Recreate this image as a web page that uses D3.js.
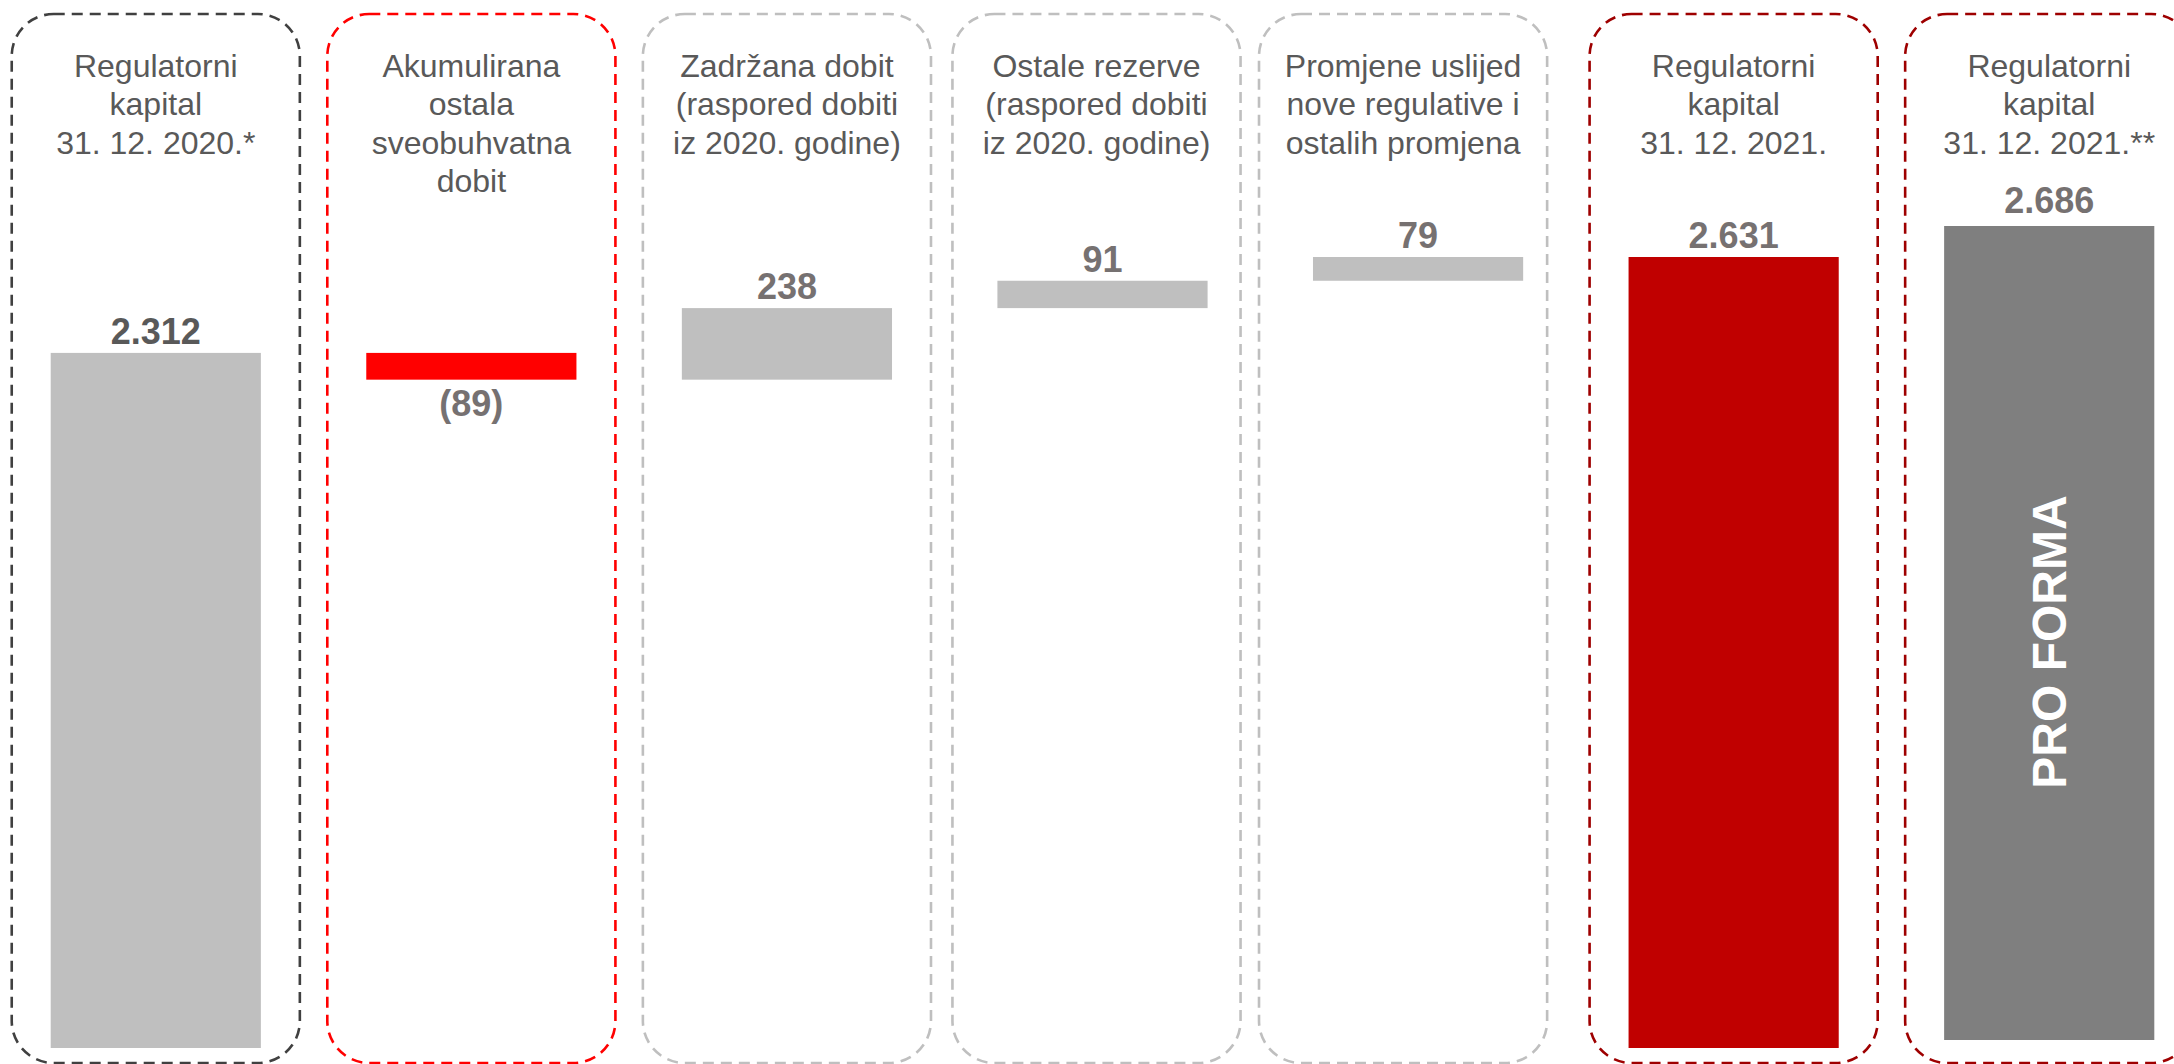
<!doctype html>
<html lang="hr">
  <head>
    <meta charset="utf-8">
    <script src="https://cdnjs.cloudflare.com/ajax/libs/d3/7.8.5/d3.min.js"></script>
    <style>
      body { margin: 0; background: #fff; }
      svg { display: block; font-family: "Liberation Sans", Arial, sans-serif; }
      .title { fill: #595959; font-size: 32px; }
      .val { font-size: 36px; font-weight: bold; }
    </style>
    <title>Regulatorni kapital</title>
  </head>
  <body>
    <div id="chart"></div>
    <script>
      // categories (one entry per column)
      var categories = ["rk2020", "akum", "zadrzana", "ostale", "promjene", "rk2021", "rk2021pf"];

      // column headings, line by line
      var titleLines = [
        ["Regulatorni", "kapital", "31. 12. 2020.*"],
        ["Akumulirana", "ostala", "sveobuhvatna", "dobit"],
        ["Zadržana dobit", "(raspored dobiti", "iz 2020. godine)"],
        ["Ostale rezerve", "(raspored dobiti", "iz 2020. godine)"],
        ["Promjene uslijed", "nove regulative i", "ostalih promjena"],
        ["Regulatorni", "kapital", "31. 12. 2021."],
        ["Regulatorni", "kapital", "31. 12. 2021.**"]
      ];

      // values (mil. kn) - totals and changes
      var values = [2312, -89, 238, 91, 79, 2631, 2686];
      var barTypes = ["total", "delta", "delta", "delta", "delta", "total", "proforma"];
      var valueLabels = ["2.312", "(89)", "238", "91", "79", "2.631", "2.686"];

      // styles per column
      var barFill = {rk2020: "#BFBFBF", akum: "#FF0000", zadrzana: "#BFBFBF", ostale: "#BFBFBF",
                     promjene: "#BFBFBF", rk2021: "#C00000", rk2021pf: "#7F7F7F"};
      var boxStroke = {rk2020: "#404040", akum: "#FF0000", zadrzana: "#BFBFBF", ostale: "#BFBFBF",
                       promjene: "#BFBFBF", rk2021: "#9E0000", rk2021pf: "#9E0000"};
      var labelFill = {rk2020: "#595959", akum: "#767171", zadrzana: "#767171", ostale: "#767171",
                       promjene: "#767171", rk2021: "#767171", rk2021pf: "#767171"};
      // frames 4 and 5 sit a little left of their bars in the original
      var boxShift = {ostale: -6, promjene: -15};

      var width = 2174, height = 1064;

      var svg = d3.select("#chart").append("svg")
          .attr("width", width)
          .attr("height", height);

      var x = d3.scaleBand()
          .domain(categories)
          .range([-2, 2207]);

      // main waterfall scale and the separate pro forma column scale
      var y = d3.scaleLinear().domain([0, 2631]).range([1048, 257]);
      var yPro = d3.scaleLinear().domain([0, 2686]).range([1040, 226]);

      // build waterfall segments
      var running = 0;
      var bars = categories.map(function(c, i) {
        var v = values[i], s, e, sc = y;
        if (barTypes[i] === "delta") {
          s = running; e = running + v; running = e;
        } else {
          s = 0; e = v; running = v;
          if (barTypes[i] === "proforma") sc = yPro;
        }
        return {cat: c, v: v, start: s, end: e, scale: sc, label: valueLabels[i], lines: titleLines[i]};
      });

      var bw = x.bandwidth();
      var boxW = bw * 0.913, barW = bw * 0.666;

      function boxCenter(c) { return x(c) + bw / 2 + (boxShift[c] || 0); }

      // dashed rounded frames
      svg.selectAll("rect.box")
        .data(bars)
        .enter()
        .append("rect")
          .attr("class", "box")
          .attr("x", function(d) { return boxCenter(d.cat) - boxW / 2; })
          .attr("y", 14)
          .attr("width", boxW)
          .attr("height", 1049)
          .attr("rx", 42)
          .attr("fill", "none")
          .attr("stroke", function(d) { return boxStroke[d.cat]; })
          .attr("stroke-width", 2.6)
          .attr("stroke-dasharray", "11,7");

      // headings
      var titles = svg.selectAll("text.title")
        .data(bars)
        .enter()
        .append("text")
          .attr("class", "title")
          .attr("text-anchor", "middle")
          .attr("x", function(d) { return boxCenter(d.cat); })
          .attr("y", 77);

      titles.selectAll("tspan")
        .data(function(d) { return d.lines.map(function(l) { return {t: l, x: boxCenter(d.cat)}; }); })
        .enter()
        .append("tspan")
          .attr("x", function(l) { return l.x; })
          .attr("dy", function(l, i) { return i === 0 ? 0 : 38.4; })
          .text(function(l) { return l.t; });

      // bars
      svg.selectAll("rect.bar")
        .data(bars)
        .enter()
        .append("rect")
          .attr("class", "bar")
          .attr("x", function(d) { return x(d.cat) + (bw - barW) / 2; })
          .attr("y", function(d) { return d.scale(Math.max(d.start, d.end)); })
          .attr("width", barW)
          .attr("height", function(d) { return Math.abs(d.scale(d.start) - d.scale(d.end)); })
          .attr("fill", function(d) { return barFill[d.cat]; });

      // value labels: above the bar, or below it for a decrease
      svg.selectAll("text.val")
        .data(bars)
        .enter()
        .append("text")
          .attr("class", "val")
          .attr("text-anchor", "middle")
          .attr("fill", function(d) { return labelFill[d.cat]; })
          .attr("x", function(d) { return x(d.cat) + bw / 2; })
          .attr("y", function(d) {
            if (d.v < 0) return d.scale(d.end) + 36;
            return d.scale(d.end) - (d.cat === "rk2021pf" ? 13 : 9);
          })
          .text(function(d) { return d.label; });

      // PRO FORMA tag inside the last bar
      var pf = bars[bars.length - 1];
      var pfx = x(pf.cat) + bw / 2, pfy = (pf.scale(0) + pf.scale(pf.end)) / 2 + 9;
      svg.append("text")
          .attr("transform", "translate(" + pfx + "," + pfy + ") rotate(-90)")
          .attr("text-anchor", "middle")
          .attr("dominant-baseline", "central")
          .attr("fill", "#FFFFFF")
          .attr("font-size", "48px")
          .attr("font-weight", "bold")
          .text("PRO FORMA");
    </script>
  </body>
</html>
